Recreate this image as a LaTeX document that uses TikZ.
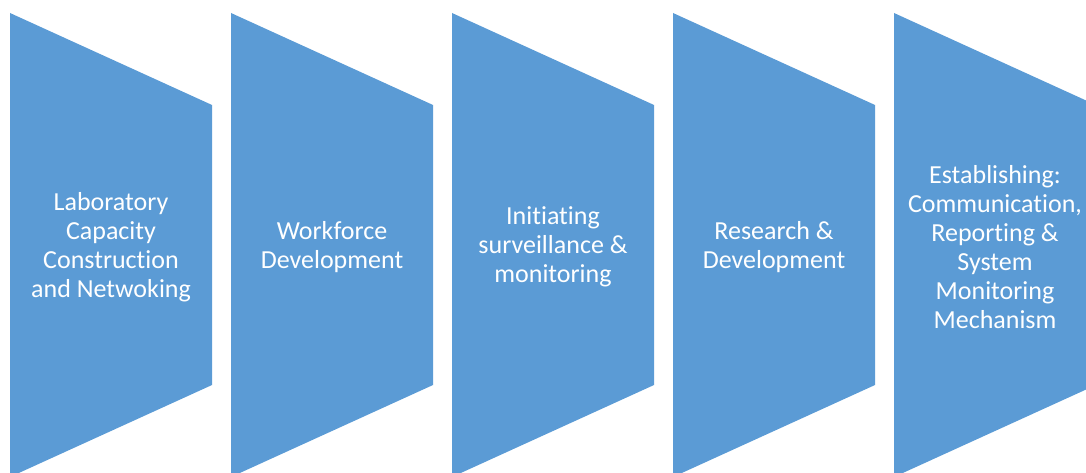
\documentclass[tikz,border=0pt]{standalone}
\usepackage{fontspec}
\setmainfont[Ligatures={NoCommon,NoContextual}]{Carlito}
\definecolor{chevblue}{HTML}{5B9BD5}
\begin{document}
\begin{tikzpicture}[x=1pt,y=1pt,
  stage/.style={fill=chevblue,draw=none},
  label/.style={text=white,align=center,font=\fontsize{26}{29}\selectfont,inner sep=0pt}]
\useasboundingbox (0,0) rectangle (1086,472);
\clip (0,0) rectangle (1086,472);
\foreach \i in {0,...,4}{
  \pgfmathsetmacro{\L}{10+221*\i}
  \fill[stage] (\L,459) -- (\L+202,367) -- (\L+202,87) -- (\L,-5) -- cycle;
}
\node[label] (s1) at (111,225) {Laboratory\\Capacity\\Construction\\and Netwoking};
\node[label] (s2) at (332,225) {Workforce\\Development};
\node[label] (s3) at (553,225) {Initiating\\surveillance \&\\monitoring};
\node[label] (s4) at (774,225) {Research \&\\Development};
\node[label] (s5) at (995,225) {Establishing:\\Communication,\\Reporting \&\\System\\Monitoring\\Mechanism};
\end{tikzpicture}
\end{document}
